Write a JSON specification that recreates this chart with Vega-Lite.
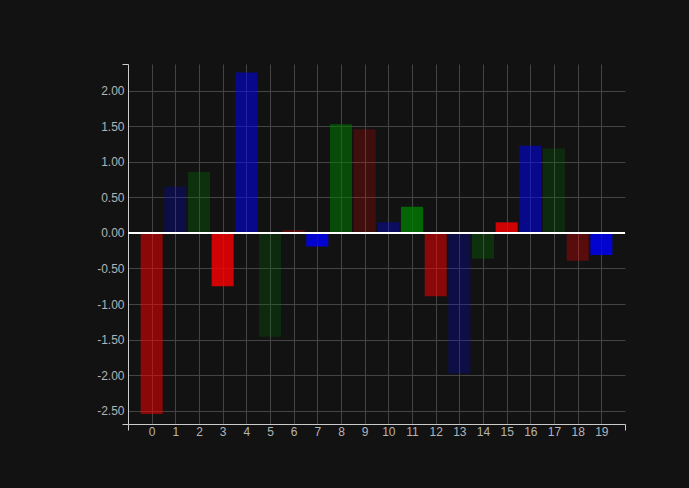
{
  "$schema": "https://vega.github.io/schema/vega-lite/v6.json",
  "autosize": "none",
  "padding": {"left": 128, "top": 64, "right": 64, "bottom": 64},
  "width": 497,
  "height": 360,
  "background": "#121212",
  "config": {
    "view": {"stroke": null, "fill": "#121212"},
    "axis": {"labelFont": "Liberation Sans", "labelFontSize": 12, "labelColor": "#b4b4b4", "domainColor": "#cccccc", "gridColor": "#444444", "labelOverlap": false, "labelFlush": false}
  },
  "data": {
    "values": [
      {"i": 0, "v": -2.55, "k": "k0"},
      {"i": 1, "v": 0.65, "k": "k1"},
      {"i": 2, "v": 0.86, "k": "k2"},
      {"i": 3, "v": -0.75, "k": "k3"},
      {"i": 4, "v": 2.26, "k": "k4"},
      {"i": 5, "v": -1.46, "k": "k5"},
      {"i": 6, "v": 0.04, "k": "k6"},
      {"i": 7, "v": -0.19, "k": "k7"},
      {"i": 8, "v": 1.53, "k": "k8"},
      {"i": 9, "v": 1.46, "k": "k9"},
      {"i": 10, "v": 0.15, "k": "k10"},
      {"i": 11, "v": 0.37, "k": "k11"},
      {"i": 12, "v": -0.89, "k": "k0"},
      {"i": 13, "v": -1.98, "k": "k1"},
      {"i": 14, "v": -0.36, "k": "k2"},
      {"i": 15, "v": 0.15, "k": "k3"},
      {"i": 16, "v": 1.23, "k": "k4"},
      {"i": 17, "v": 1.19, "k": "k5"},
      {"i": 18, "v": -0.39, "k": "k6"},
      {"i": 19, "v": -0.31, "k": "k7"}
    ]
  },
  "layer": [
    {
      "mark": {"type": "bar", "size": 22},
      "encoding": {
        "x": {
          "field": "i", "type": "quantitative",
          "scale": {"domain": [-1, 20], "nice": false, "zero": false, "padding": 0},
          "axis": {
            "title": null,
            "values": [-1, 0, 1, 2, 3, 4, 5, 6, 7, 8, 9, 10, 11, 12, 13, 14, 15, 16, 17, 18, 19, 20],
            "tickCount": 50,
            "format": "d",
            "labelOverlap": false,
            "labelExpr": "datum.value < 0 || datum.value > 19 ? '' : datum.label",
            "tickSize": 6,
            "tickColor": {"condition": {"test": "datum.value < 0 || datum.value > 19", "value": "#cccccc"}, "value": "transparent"},
            "gridColor": {"condition": {"test": "datum.value < 0 || datum.value > 19", "value": "transparent"}, "value": "#444444"},
            "labelPadding": -4
          }
        },
        "y": {
          "field": "v", "type": "quantitative",
          "scale": {"domain": [-2.69, 2.38], "nice": false, "zero": false, "padding": 0},
          "axis": {
            "title": null,
            "values": [-2.69, -2.5, -2, -1.5, -1, -0.5, 0, 0.5, 1, 1.5, 2, 2.38],
            "tickCount": 50,
            "labelOverlap": false,
            "labelExpr": "datum.value > 2.2 || datum.value < -2.6 ? '' : replace(format(datum.value, '.2f'), '\u2212', '-')",
            "tickSize": 6,
            "tickColor": {"condition": {"test": "datum.value > 2.2 || datum.value < -2.6", "value": "#cccccc"}, "value": "transparent"},
            "gridColor": {"condition": {"test": "datum.value > 2.2 || datum.value < -2.6", "value": "transparent"}, "value": "#444444"},
            "labelPadding": -2
          }
        },
        "y2": {"datum": 0},
        "color": {
          "field": "k", "type": "nominal", "legend": null,
          "scale": {
            "domain": ["k0", "k1", "k2", "k3", "k4", "k5", "k6", "k7", "k8", "k9", "k10", "k11"],
            "range": ["rgba(255,0,0,0.51)", "rgba(0,0,255,0.22)", "rgba(0,128,0,0.29)", "rgba(255,0,0,0.8)", "rgba(0,0,255,0.51)", "rgba(0,128,0,0.22)", "rgba(255,0,0,0.3)", "rgba(0,0,255,0.8)", "rgba(0,128,0,0.52)", "rgba(255,0,0,0.2)", "rgba(0,0,255,0.33)", "rgba(0,128,0,0.77)"]
          }
        }
      }
    },
    {
      "mark": {"type": "rule", "color": "#ffffff", "strokeWidth": 1.5},
      "encoding": {"y": {"datum": 0}}
    }
  ]
}
